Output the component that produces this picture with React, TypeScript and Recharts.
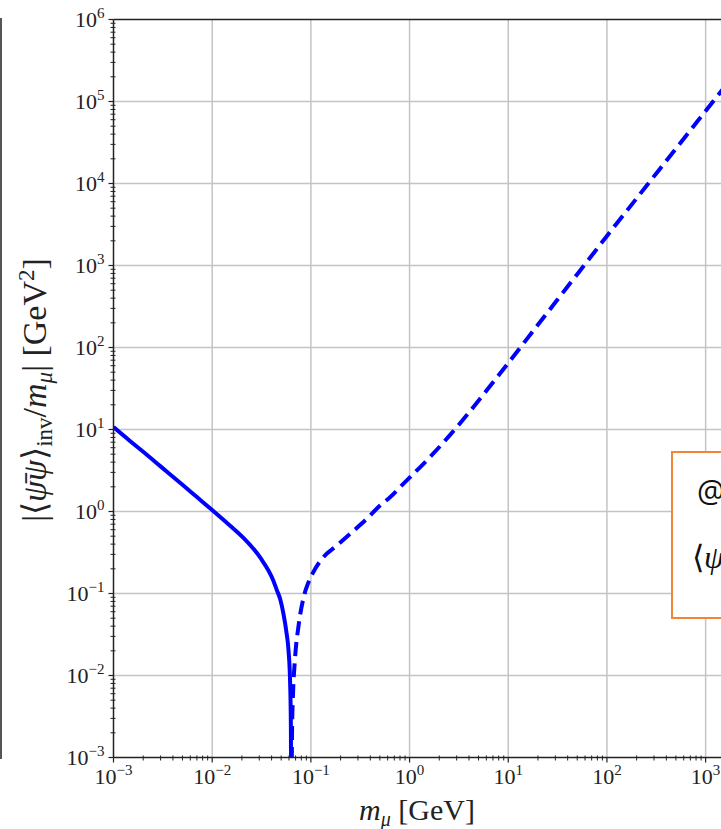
import React from "react";
import { LineChart, Line, XAxis, YAxis, ReferenceLine } from "recharts";

// major decades on each axis
const xMajor = [1e-3, 1e-2, 1e-1, 1, 10, 100, 1000];
const yMajor = [1e-3, 1e-2, 1e-1, 1, 10, 100, 1e3, 1e4, 1e5, 1e6];
const minorMult = [2, 3, 4, 5, 6, 7, 8, 9];
const X_MAX = 1500;

// solid branch (below the zero crossing)
const solidX = [0.001, 0.0015, 0.002, 0.003, 0.005, 0.007, 0.01, 0.015, 0.0206, 0.0306, 0.0415, 0.0452, 0.0489, 0.0527, 0.0565, 0.0593, 0.0616, 0.0627, 0.0631];
const solidY = [10.7, 7.1, 5.35, 3.55, 2.12, 1.5, 1.04, 0.68, 0.48, 0.275, 0.145, 0.11, 0.085, 0.057, 0.034, 0.0205, 0.0082, 0.0025, 0.0005];

// dashed branch (above the zero crossing)
const dashedX = [0.0638, 0.0646, 0.0656, 0.0693, 0.0748, 0.0841, 0.0946, 0.1106, 0.134, 0.184, 0.251, 0.37, 0.505, 0.638, 0.869, 1, 1.585, 2.512, 3.981, 6.31, 10, 15.85, 25.1, 39.8, 63.1, 100, 158.5, 251, 398, 631, 1000, 1585];
const dashedY = [0.0005, 0.0025, 0.005, 0.0169, 0.0394, 0.088, 0.137, 0.2, 0.278, 0.386, 0.537, 0.819, 1.19, 1.5, 2.19, 2.59, 4.52, 8.3, 16.0, 32.0, 64.6, 132, 269, 550, 1122, 2291, 4624, 9333, 18836, 38019, 76736, 154882];

const solidData = solidX.map((x, i) => ({ x, y: solidY[i] }));
const dashedData = dashedX.map((x, i) => ({ x, y: dashedY[i] }));

const xTicks = [...xMajor, ...xMajor.flatMap((d) => minorMult.map((k) => k * d)).filter((v) => v < X_MAX)];
const yTicks = [...yMajor, ...yMajor.slice(0, -1).flatMap((d) => minorMult.map((k) => k * d))];

const FONT = "'Liberation Serif', serif";
const INK = "#222";

const isMajor = (v: number) => Math.abs(Math.log10(v) - Math.round(Math.log10(v))) < 1e-6;
const expLabel = (v: number) => {
  const e = Math.round(Math.log10(v));
  return e < 0 ? "\u2212" + -e : String(e);
};

const XTick = (props: any) => {
  const { x, y, payload } = props;
  const v = payload.value;
  if (!isMajor(v)) {
    return <line x1={x} x2={x} y1={y - 2} y2={y + 3} stroke={INK} strokeWidth={1} />;
  }
  return (
    <g>
      <line x1={x} x2={x} y1={y} y2={y + 5} stroke={INK} strokeWidth={1.2} />
      <text x={x} y={y + 26} textAnchor="middle" fontFamily={FONT} fontSize={22} fill={INK}>
        <tspan>10</tspan>
        <tspan dy={-9} fontSize={15}>{expLabel(v)}</tspan>
      </text>
    </g>
  );
};

const YTick = (props: any) => {
  const { x, y, payload } = props;
  const v = payload.value;
  if (!isMajor(v)) {
    return <line x1={x - 3} x2={x + 2} y1={y} y2={y} stroke={INK} strokeWidth={1} />;
  }
  return (
    <g>
      <line x1={x - 5} x2={x} y1={y} y2={y} stroke={INK} strokeWidth={1.2} />
      <text x={x - 9} y={y + 7} textAnchor="end" fontFamily={FONT} fontSize={22} fill={INK}>
        <tspan>10</tspan>
        <tspan dy={-9} fontSize={15}>{expLabel(v)}</tspan>
      </text>
    </g>
  );
};

export default function App() {
  const gridX = xMajor.slice(1);
  const gridY = yMajor.slice(1, -1);
  return (
    <div style={{ position: "absolute", left: 0, top: 0, width: 721, height: 829, overflow: "hidden", background: "#fff" }}>
      {/* edge of the neighbouring panel */}
      <div style={{ position: "absolute", left: 0, top: 18, width: 2, height: 741, background: "#555" }} />

      <LineChart width={760} height={829} margin={{ top: 19.5, right: 37, left: 0, bottom: 0 }}>
        <XAxis
          type="number"
          dataKey="x"
          scale="log"
          domain={[1e-3, X_MAX]}
          allowDataOverflow
          ticks={xTicks}
          interval={0}
          tick={XTick}
          tickLine={false}
          tickSize={0}
          tickMargin={0}
          height={71.5}
          axisLine={{ stroke: INK, strokeWidth: 1.5 }}
        />
        <YAxis
          type="number"
          dataKey="y"
          scale="log"
          domain={[1e-3, 1e6]}
          allowDataOverflow
          ticks={yTicks}
          interval={0}
          tick={YTick}
          tickLine={false}
          tickSize={0}
          tickMargin={0}
          width={113.5}
          axisLine={{ stroke: INK, strokeWidth: 1.5 }}
        />
        {gridX.map((v) => (
          <ReferenceLine key={"gx" + v} x={v} stroke="#c4c4c4" strokeWidth={1.5} />
        ))}
        {gridY.map((v) => (
          <ReferenceLine key={"gy" + v} y={v} stroke="#c4c4c4" strokeWidth={1.5} />
        ))}
        <ReferenceLine y={1e6} stroke={INK} strokeWidth={1.5} />
        <Line data={solidData} dataKey="y" type="monotone" stroke="#0000ff" strokeWidth={4} dot={false} isAnimationActive={false} />
        <Line data={dashedData} dataKey="y" type="monotone" stroke="#0000ff" strokeWidth={4} strokeDasharray="14 7" dot={false} isAnimationActive={false} />
      </LineChart>

      {/* axis titles */}
      <svg width={721} height={829} style={{ position: "absolute", left: 0, top: 0, pointerEvents: "none" }}>
        <text x={417} y={820} textAnchor="middle" fontFamily={FONT} fontSize={30} fill={INK}>
          <tspan fontStyle="italic">m</tspan>
          <tspan fontStyle="italic" fontSize={20} dy={6}>μ</tspan>
          <tspan dy={-6}>{" [GeV]"}</tspan>
        </text>
        <text x={46} y={390} transform="rotate(-90, 46, 390)" textAnchor="middle" fontFamily={FONT} fontSize={34} fill={INK}>
          <tspan>|⟨</tspan>
          <tspan fontStyle="italic">ψ̄ψ</tspan>
          <tspan>⟩</tspan>
          <tspan fontSize={23} dy={6}>inv</tspan>
          <tspan dy={-6}>/</tspan>
          <tspan fontStyle="italic">m</tspan>
          <tspan fontStyle="italic" fontSize={23} dy={6}>μ</tspan>
          <tspan dy={-6}>{"| [GeV"}</tspan>
          <tspan fontSize={23} dy={-12}>2</tspan>
          <tspan dy={12}>]</tspan>
        </text>
      </svg>

      {/* annotation box, cut by the right edge */}
      <div
        style={{
          position: "absolute",
          left: 671,
          top: 451,
          width: 160,
          height: 164,
          border: "2px solid #f08538",
          background: "#fff",
        }}
      >
        <div style={{ position: "absolute", left: 24, top: 22, fontFamily: "'Open Sans', sans-serif", fontSize: 31, color: "#111", lineHeight: 1 }}>
          @ T = 0
        </div>
        <div style={{ position: "absolute", left: 19, top: 88, fontFamily: FONT, fontSize: 32, color: "#111", lineHeight: 1 }}>
          ⟨<i>ψ̄ψ</i>⟩
        </div>
      </div>
    </div>
  );
}
